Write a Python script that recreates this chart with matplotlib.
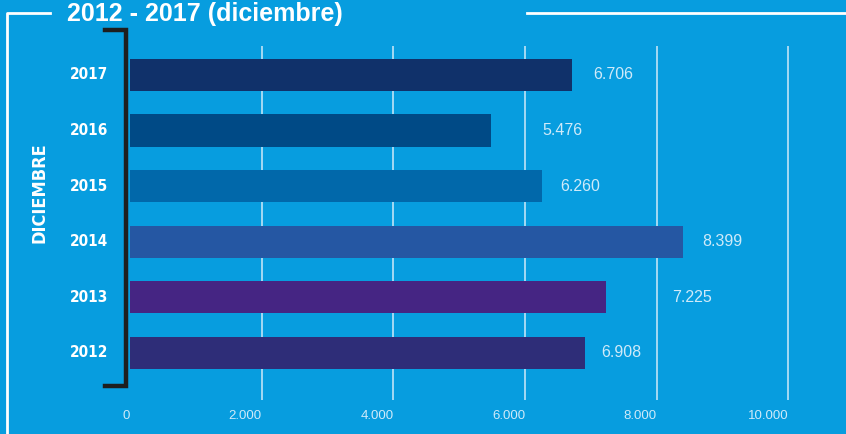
import matplotlib.pyplot as plt
from matplotlib.lines import Line2D
from matplotlib import font_manager

years = ['2012', '2013', '2014', '2015', '2016', '2017']
values = [6908, 7225, 8399, 6260, 5476, 6706]
value_labels = ['6.908', '7.225', '8.399', '6.260', '5.476', '6.706']
bar_colors = ['#2e2d78', '#452583', '#2557a3', '#0168aa', '#004a86', '#10316a']
label_offsets = [16, 66, 19, 18, 52, 22]  # px gap between bar end and label
xticks = [0, 2000, 4000, 6000, 8000, 10000]
xtick_labels = ['0', '2.000', '4.000', '6.000', '8.000', '10.000']

bg = '#079ddf'
light = '#cfeaf9'
sans = ['Liberation Sans', 'DejaVu Sans']

# look for a condensed bold face for the year labels
cond = None
for f in font_manager.fontManager.ttflist:
    if 'Condensed' in f.fname and 'Bold' in f.fname and 'Oblique' not in f.fname:
        cond = f.fname
        break
if cond:
    narrow = font_manager.FontProperties(fname=cond)
else:
    narrow = font_manager.FontProperties(family=sans, weight='bold')

W, H = 846, 434
fig = plt.figure(figsize=(W / 100, H / 100), dpi=100, facecolor=bg)
ax = fig.add_axes([130 / W, 1 - 400 / H, (828 - 130) / W, (400 - 46) / H])
ax.set_facecolor(bg)

pos = list(range(len(years)))
ax.barh(pos, values, height=0.58, color=bar_colors, zorder=3)
ax.set_xlim(0, 10600)
ax.set_ylim(-0.85, 5.52)

for g in xticks[1:]:
    ax.axvline(g, color='#bfe3f7', lw=1.2, zorder=1)

for p, v, lab, off in zip(pos, values, value_labels, label_offsets):
    ax.annotate(lab, (v, p), xytext=(off * 0.72, 0), textcoords='offset points',
                ha='left', va='center', color=light, fontsize=11.5, family=sans)

ax.set_xticks([])
ax.set_yticks([])
for s in ax.spines.values():
    s.set_visible(False)

# x tick labels, right-aligned to their grid lines
for t, lab in zip(xticks, xtick_labels):
    ax.annotate(lab, (t, -0.85), xytext=(0, -16 * 0.72), textcoords='offset points',
                ha='right', va='center', color=light, fontsize=9.5, family=sans)

# year labels
fs_year = 11 if cond else 10
for p, y in zip(pos, years):
    ax.annotate(y, (0, p), xytext=(-22 * 0.72, 0), textcoords='offset points',
                ha='right', va='center', color='white', fontsize=fs_year,
                fontproperties=narrow)

def px(x, y):
    return x / W, 1 - y / H

# black bracket
bx = [px(105, 30), px(126, 30), px(126, 386), px(105, 386)]
fig.add_artist(Line2D([p[0] for p in bx], [p[1] for p in bx], color='#1e1e1e',
                      lw=3.2, solid_joinstyle='miter', transform=fig.transFigure))

# white frame lines
fig.add_artist(Line2D([px(50, 13)[0], px(7, 13)[0], px(7, 434)[0]],
                      [px(50, 13)[1], px(7, 13)[1], px(7, 434)[1]],
                      color='white', lw=2, transform=fig.transFigure))
fig.add_artist(Line2D([px(527, 13)[0], 1], [px(527, 13)[1]] * 2,
                      color='white', lw=2, transform=fig.transFigure))

fig.text(*px(67, 14), '2012 - 2017 (diciembre)', ha='left', va='center',
         color='white', fontsize=18, fontweight='bold', family=sans)

t = fig.text(*px(40, 193), 'DICIEMBRE', rotation=90, ha='center', va='center',
             color='white', fontproperties=narrow)
t.set_fontsize(13 if cond else 12)

fig.savefig('out.png', dpi=100, facecolor=bg)
